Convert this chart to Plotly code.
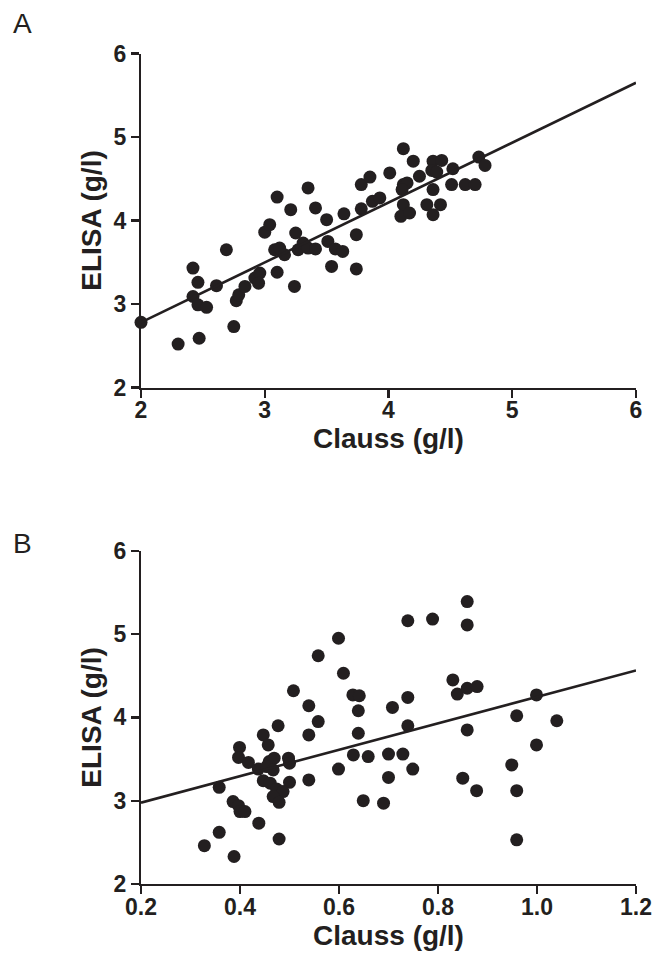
import plotly.graph_objects as go

# Panel A data (Clauss vs ELISA, g/l)
a_clauss = [2.00, 2.30, 2.47, 2.42, 2.46, 2.42, 2.46, 2.53, 2.61, 2.69,
            2.75, 2.77, 2.79, 2.84, 2.92, 2.96, 2.95, 3.00, 3.04, 3.10,
            3.10, 3.21, 3.24, 3.25, 3.08, 3.12, 3.16, 3.27, 3.31, 3.35,
            3.41, 3.35, 3.41, 3.50, 3.51, 3.57, 3.63, 3.54, 3.64, 3.74,
            3.74, 3.78, 3.78, 3.85, 3.87, 3.93, 4.01, 4.12, 4.20, 4.12,
            4.15, 4.11, 4.25, 4.36, 4.43, 4.35, 4.39, 4.52, 4.36, 4.51,
            4.62, 4.70, 4.73, 4.78, 4.12, 4.10, 4.17, 4.31, 4.42, 4.36]
a_elisa = [2.78, 2.52, 2.59, 3.43, 3.26, 3.09, 2.99, 2.96, 3.22, 3.65,
           2.73, 3.04, 3.11, 3.21, 3.31, 3.37, 3.25, 3.86, 3.95, 4.28,
           3.38, 4.13, 3.21, 3.85, 3.65, 3.67, 3.59, 3.65, 3.73, 3.67,
           3.66, 4.39, 4.15, 4.01, 3.75, 3.66, 3.63, 3.45, 4.08, 3.83,
           3.42, 4.14, 4.43, 4.52, 4.23, 4.27, 4.57, 4.86, 4.71, 4.43,
           4.45, 4.37, 4.53, 4.71, 4.72, 4.60, 4.58, 4.62, 4.37, 4.43,
           4.43, 4.43, 4.76, 4.66, 4.19, 4.05, 4.09, 4.19, 4.19, 4.07]
a_fit_x = [2.0, 6.0]
a_fit_y = [2.78, 5.65]

# Panel B data
b_clauss = [0.599, 0.558, 0.609, 0.508, 0.628, 0.641, 0.539, 0.639, 0.558, 0.477,
            0.447, 0.539, 0.639, 0.708, 0.859, 0.739, 0.789, 0.859, 0.830, 0.839,
            0.859, 0.879, 0.999, 0.739, 0.739, 0.959, 1.040, 0.859, 0.999, 0.700,
            0.729, 0.749, 0.700, 0.690, 0.949, 0.850, 0.878, 0.959, 0.959, 0.399,
            0.457, 0.397, 0.417, 0.437, 0.459, 0.469, 0.454, 0.467, 0.498, 0.500,
            0.447, 0.461, 0.500, 0.539, 0.474, 0.487, 0.467, 0.479, 0.358, 0.386,
            0.397, 0.400, 0.410, 0.438, 0.358, 0.328, 0.388, 0.479, 0.599, 0.629,
            0.659, 0.649]
b_elisa = [4.95, 4.74, 4.53, 4.32, 4.27, 4.26, 4.14, 4.08, 3.95, 3.90,
           3.79, 3.79, 3.81, 4.12, 5.39, 5.16, 5.18, 5.11, 4.45, 4.28,
           4.35, 4.37, 4.27, 4.24, 3.90, 4.02, 3.96, 3.85, 3.67, 3.56,
           3.56, 3.38, 3.28, 2.97, 3.43, 3.27, 3.12, 3.12, 2.53, 3.64,
           3.67, 3.52, 3.46, 3.38, 3.47, 3.51, 3.41, 3.37, 3.51, 3.45,
           3.24, 3.21, 3.22, 3.25, 3.14, 3.11, 3.05, 2.98, 3.16, 2.99,
           2.94, 2.87, 2.87, 2.73, 2.62, 2.46, 2.33, 2.54, 3.38, 3.55,
           3.53, 3.00]
b_fit_x = [0.2, 1.2]
b_fit_y = [2.976, 4.564]

a_xticks = [2, 3, 4, 5, 6]
a_yticks = [2, 3, 4, 5, 6]
b_xticks = [0.2, 0.4, 0.6, 0.8, 1.0, 1.2]
b_xticklabels = ["0.2", "0.4", "0.6", "0.8", "1.0", "1.2"]
b_yticks = [2, 3, 4, 5, 6]

W, H = 665, 963
INK = "#231f20"
FONT = "Liberation Sans, Arial, Helvetica, sans-serif"

fig = go.Figure()
mk = dict(size=13, color=INK)
fig.add_trace(go.Scatter(x=a_clauss, y=a_elisa, mode="markers", marker=mk,
                         cliponaxis=False, xaxis="x", yaxis="y", showlegend=False))
fig.add_trace(go.Scatter(x=a_fit_x, y=a_fit_y, mode="lines",
                         line=dict(color=INK, width=2.6), cliponaxis=False,
                         xaxis="x", yaxis="y", showlegend=False))
fig.add_trace(go.Scatter(x=b_clauss, y=b_elisa, mode="markers", marker=mk,
                         cliponaxis=False, xaxis="x2", yaxis="y2", showlegend=False))
fig.add_trace(go.Scatter(x=b_fit_x, y=b_fit_y, mode="lines",
                         line=dict(color=INK, width=2.6), cliponaxis=False,
                         xaxis="x2", yaxis="y2", showlegend=False))

xdom = [141 / W, 636 / W]
ydomA = [1 - 387.5 / H, 1 - 53.5 / H]
ydomB = [1 - 884 / H, 1 - 550.8 / H]

tickfont = dict(family=FONT, size=23, color=INK, weight="bold")
titlefont = dict(family=FONT, size=28, color=INK, weight="bold")

def ax(**kw):
    d = dict(showline=True, linecolor=INK, linewidth=2.2, ticks="outside",
             ticklen=8, tickwidth=2.2, tickcolor=INK, showgrid=False,
             zeroline=False, tickfont=tickfont, fixedrange=True,
             automargin=False)
    d.update(kw)
    return d

fig.update_layout(
    width=W, height=H, margin=dict(l=0, r=0, t=0, b=0, autoexpand=False),
    paper_bgcolor="white", plot_bgcolor="white",
    xaxis=ax(domain=xdom, range=[2, 6], tickvals=a_xticks, anchor="y",
             ticklabelstandoff=-7,
             title=dict(text="Clauss (g/l)", font=titlefont, standoff=3)),
    yaxis=ax(domain=ydomA, range=[2, 6], tickvals=a_yticks, anchor="x",
             title=dict(text="ELISA (g/l)", font=titlefont, standoff=4)),
    xaxis2=ax(domain=xdom, range=[0.2, 1.2], tickvals=b_xticks,
              ticktext=b_xticklabels, anchor="y2", ticklabelstandoff=-7,
              title=dict(text="Clauss (g/l)", font=titlefont, standoff=3)),
    yaxis2=ax(domain=ydomB, range=[2, 6], tickvals=b_yticks, anchor="x2",
              title=dict(text="ELISA (g/l)", font=titlefont, standoff=4)),
    annotations=[
        dict(text="A", x=11 / W, y=1 - 23 / H, xref="paper", yref="paper",
             xanchor="left", yanchor="middle", showarrow=False,
             font=dict(family=FONT, size=28, color=INK)),
        dict(text="B", x=11 / W, y=1 - 543 / H, xref="paper", yref="paper",
             xanchor="left", yanchor="middle", showarrow=False,
             font=dict(family=FONT, size=28, color=INK)),
    ],
)

fig.write_html("out.html",
               config={"displayModeBar": False, "staticPlot": True},
               post_script="document.body.style.margin='0';document.body.style.padding='0';")
